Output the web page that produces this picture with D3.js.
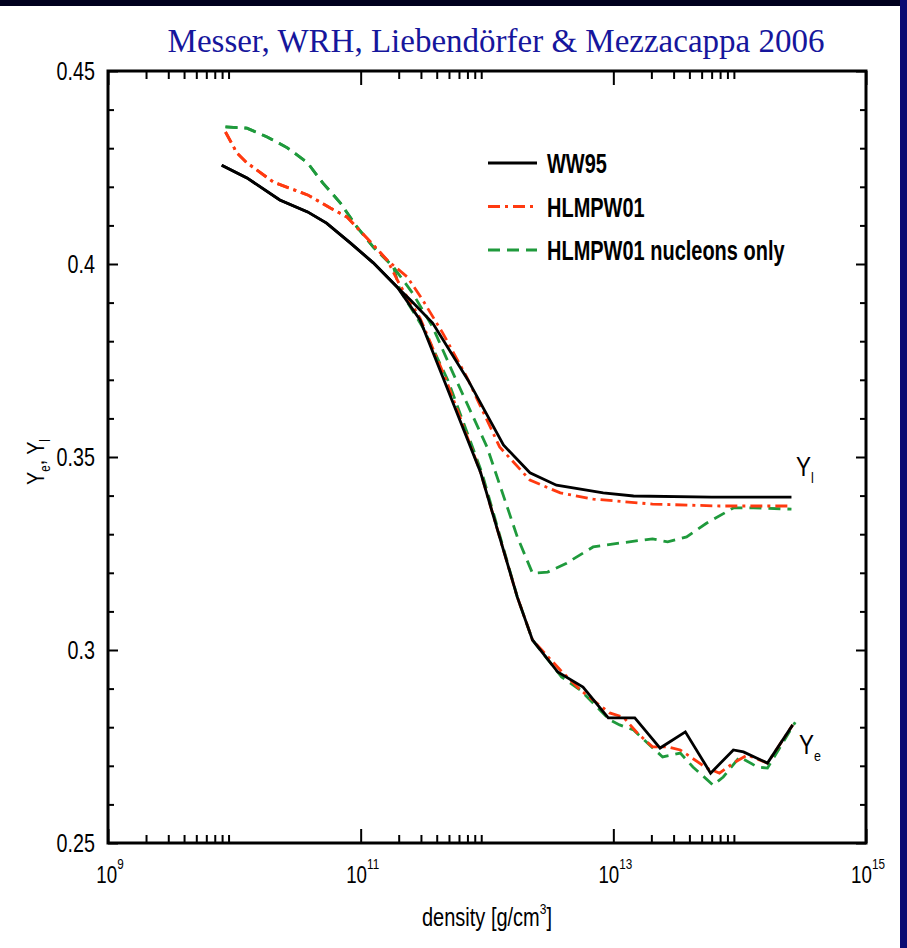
<!DOCTYPE html>
<html>
<head>
<meta charset="utf-8">
<script src="https://cdn.jsdelivr.net/npm/d3@7"></script>
<style>
  body { margin: 0; background: #fff; }
  svg { display: block; }
  .lab { font-family: "Liberation Sans", Arial, Helvetica, sans-serif; }
</style>
</head>
<body>
<svg width="907" height="948"></svg>
<script>
// series: [log10 density, Y]
const ww95Yl = [[9.90,0.4256],[10.10,0.4223],[10.36,0.4166],[10.58,0.4135],[10.73,0.4106],[10.92,0.4054],[11.10,0.4003],[11.29,0.3940],
  [11.40,0.3905],[11.57,0.3847],[11.85,0.3699],[12.13,0.3531],[12.34,0.3459],[12.55,0.3427],[12.92,0.3407],[13.16,0.3399],[13.78,0.3396],[14.41,0.3396]];
const ww95Ye = [[9.90,0.4256],[10.10,0.4223],[10.36,0.4166],[10.58,0.4135],[10.73,0.4106],[10.92,0.4054],[11.10,0.4003],[11.29,0.3940],
  [11.47,0.3855],[11.65,0.3707],[11.95,0.3459],[12.24,0.3137],[12.36,0.3026],[12.56,0.2943],[12.76,0.2904],[12.96,0.2824],[13.17,0.2824],
  [13.37,0.2746],[13.57,0.2788],[13.77,0.2681],[13.95,0.2741],[14.03,0.2736],[14.22,0.2707],[14.42,0.2806]];
const hlmpYl = [[9.93,0.4342],[10.02,0.4288],[10.10,0.4262],[10.31,0.4212],[10.58,0.4179],[10.76,0.4145],[10.89,0.4122],[11.05,0.4067],[11.21,0.4010],
  [11.37,0.3966],[11.49,0.3907],[11.65,0.3821],[11.84,0.3707],[12.10,0.3526],[12.34,0.3440],[12.58,0.3407],[12.84,0.3391],[13.31,0.3378],[13.84,0.3373],[14.41,0.3373]];
const hlmpYe = [[9.93,0.4342],[10.02,0.4288],[10.10,0.4262],[10.31,0.4212],[10.58,0.4179],[10.76,0.4145],[10.89,0.4122],[11.05,0.4067],[11.21,0.4010],
  [11.31,0.3946],[11.47,0.3860],[11.67,0.3705],[11.95,0.3459],[12.24,0.3137],[12.36,0.3026],[12.58,0.2948],[12.74,0.2896],[12.97,0.2837],[13.08,0.2826],
  [13.19,0.2785],[13.31,0.2749],[13.43,0.2749],[13.53,0.2741],[13.74,0.2694],[13.84,0.2681],[13.95,0.2707],[14.06,0.2728],[14.22,0.2707],[14.42,0.2806]];
const nucYl = [[9.93,0.4355],[10.10,0.4352],[10.26,0.4329],[10.42,0.4301],[10.58,0.4262],[10.70,0.4210],[10.84,0.4158],[10.97,0.4096],[11.10,0.4044],[11.26,0.3992],
  [11.41,0.3925],[11.57,0.3837],[11.73,0.3718],[12.00,0.3526],[12.24,0.3293],[12.36,0.3199],[12.48,0.3202],[12.63,0.3225],[12.84,0.3267],[13.05,0.3277],
  [13.31,0.3288],[13.43,0.3280],[13.58,0.3293],[13.74,0.3329],[13.95,0.3368],[14.11,0.3368],[14.41,0.3365]];
const nucYe = [[9.93,0.4355],[10.10,0.4352],[10.26,0.4329],[10.42,0.4301],[10.58,0.4262],[10.70,0.4210],[10.84,0.4158],[10.97,0.4096],[11.10,0.4044],[11.26,0.3992],
  [11.31,0.3933],[11.49,0.3837],[11.69,0.3699],[11.96,0.3459],[12.24,0.3137],[12.36,0.3026],[12.59,0.2930],[12.74,0.2896],[12.97,0.2819],[13.05,0.2806],
  [13.16,0.2793],[13.27,0.2759],[13.39,0.2723],[13.53,0.2733],[13.63,0.2697],[13.79,0.2650],[13.87,0.2671],[14.00,0.2723],[14.14,0.2697],[14.22,0.2694],[14.44,0.2813]];

const xMajor = [9, 11, 13, 15];          // exponents
const xMinorDecades = [9, 11, 13];       // minor ticks 2..9 only in these decades
const yMajor = [0.25, 0.3, 0.35, 0.4, 0.45];
const legendNames = ['WW95', 'HLMPW01', 'HLMPW01 nucleons only'];

const svg = d3.select('svg');
const margin = {top: 71, right: 41, bottom: 105, left: 108};
const width = 907, height = 948;
const innerWidth = width - margin.left - margin.right;
const innerHeight = height - margin.top - margin.bottom;

// condensed helvetica look: squeeze text horizontally
const squeeze = (sel, x, y, k) => sel.attr('transform', `translate(${x}, ${y}) scale(${k}, 1)`);

// dark slide border
svg.append('rect').attr('x', 0).attr('y', 0).attr('width', width).attr('height', 6).attr('fill', '#00001e');
svg.append('rect').attr('x', 900).attr('y', 0).attr('width', 7).attr('height', height).attr('fill', '#0b0b72');

svg.append('text')
  .attr('x', 496).attr('y', 52)
  .attr('text-anchor', 'middle')
  .style('font-family', '"Liberation Serif", "Times New Roman", serif')
  .style('font-size', '33px')
  .attr('fill', '#16169c')
  .text('Messer, WRH, Liebendörfer & Mezzacappa 2006');

const xScale = d3.scaleLog().domain([1e9, 1e15]).range([0, innerWidth]);
const yScale = d3.scaleLinear().domain([0.25, 0.45]).range([innerHeight, 0]);

const g = svg.append('g').attr('transform', `translate(${margin.left}, ${margin.top})`);

// ticks pointing inward on all four sides
const xMinor = [];
xMinorDecades.forEach(d => { for (let k = 2; k <= 9; k++) xMinor.push(k * Math.pow(10, d)); });
const yMinor = d3.range(0.26, 0.45, 0.01).filter(v => Math.abs(v * 20 - Math.round(v * 20)) > 1e-6);
const xMajorVals = xMajor.map(e => Math.pow(10, e));

const tickAxis = (axisFn, scale, vals, size, tr) => {
  const a = g.append('g').attr('transform', tr)
    .call(axisFn(scale).tickValues(vals).tickSize(-size).tickFormat(''));
  a.select('.domain').remove();
  a.selectAll('.tick text').remove();
  a.selectAll('.tick line').attr('stroke', '#000').attr('stroke-width', 2);
};
tickAxis(d3.axisBottom, xScale, xMajorVals, 14, `translate(0, ${innerHeight})`);
tickAxis(d3.axisBottom, xScale, xMinor, 8, `translate(0, ${innerHeight})`);
tickAxis(d3.axisTop, xScale, xMajorVals, 14, 'translate(0, 0)');
tickAxis(d3.axisTop, xScale, xMinor, 8, 'translate(0, 0)');
tickAxis(d3.axisLeft, yScale, yMajor, 10, 'translate(0, 0)');
tickAxis(d3.axisLeft, yScale, yMinor, 6, 'translate(0, 0)');
tickAxis(d3.axisRight, yScale, yMajor, 10, `translate(${innerWidth}, 0)`);
tickAxis(d3.axisRight, yScale, yMinor, 6, `translate(${innerWidth}, 0)`);

g.append('rect')
  .attr('width', innerWidth).attr('height', innerHeight)
  .attr('fill', 'none').attr('stroke', '#000').attr('stroke-width', 3);

// tick labels
yMajor.forEach(v => {
  g.append('text')
    .attr('class', 'lab')
    .attr('text-anchor', 'end')
    .style('font-size', '25px')
    .call(squeeze, -13, yScale(v) + 9, 0.79)
    .text(+v.toFixed(2));
});

xMajor.forEach(e => {
  g.append('text')
    .attr('class', 'lab')
    .attr('text-anchor', 'middle')
    .style('font-size', '24px')
    .call(squeeze, xScale(Math.pow(10, e)) + 2, innerHeight + 40, 0.78)
    .call(t => {
      t.append('tspan').text('10');
      t.append('tspan').attr('dy', -14).style('font-size', '15px').text(e);
    });
});

svg.append('text')
  .attr('class', 'lab')
  .attr('text-anchor', 'middle')
  .style('font-size', '25px')
  .call(squeeze, 487, 926, 0.8)
  .call(t => {
    t.append('tspan').text('density [g/cm');
    t.append('tspan').attr('dy', -12).style('font-size', '15px').text('3');
    t.append('tspan').attr('dy', 12).text(']');
  });

svg.append('text')
  .attr('class', 'lab')
  .attr('transform', 'translate(44, 462) rotate(-90) scale(0.82, 1)')
  .attr('text-anchor', 'middle')
  .style('font-size', '24px')
  .call(t => {
    t.append('tspan').text('Y');
    t.append('tspan').attr('dy', 6).style('font-size', '14px').text('e');
    t.append('tspan').attr('dy', -6).text(', Y');
    t.append('tspan').attr('dy', 6).style('font-size', '14px').text('l');
  });

// curves
const line = d3.line()
  .x(d => xScale(Math.pow(10, d[0])))
  .y(d => yScale(d[1]));

const styles = [
  {color: '#000000', dash: null},
  {color: '#ff3a10', dash: '12,5,3,5'},
  {color: '#1f9a3c', dash: '12,7'}
];
const curves = [
  {data: ww95Yl, s: 0}, {data: ww95Ye, s: 0},
  {data: hlmpYl, s: 1}, {data: hlmpYe, s: 1},
  {data: nucYl, s: 2}, {data: nucYe, s: 2}
];
// draw green first, black last
[4, 5, 2, 3, 0, 1].forEach(i => {
  const c = curves[i];
  g.append('path')
    .datum(c.data)
    .attr('d', line)
    .attr('fill', 'none')
    .attr('stroke', styles[c.s].color)
    .attr('stroke-width', 2.8)
    .attr('stroke-dasharray', styles[c.s].dash);
});

// branch labels
const branchLabel = (x, y, sub) => {
  svg.append('text')
    .attr('class', 'lab')
    .style('font-size', '27px')
    .call(squeeze, x, y, 0.83)
    .call(t => {
      t.append('tspan').text('Y');
      t.append('tspan').attr('dy', 7).style('font-size', '15px').text(sub);
    });
};
branchLabel(796, 476, 'l');
branchLabel(799, 754, 'e');

// legend
const legend = svg.append('g');
legendNames.forEach((name, i) => {
  const y = 163 + i * 43.5;
  legend.append('line')
    .attr('x1', 488).attr('x2', 537).attr('y1', y).attr('y2', y)
    .attr('stroke', styles[i].color)
    .attr('stroke-width', 3)
    .attr('stroke-dasharray', styles[i].dash);
  legend.append('text')
    .attr('class', 'lab')
    .style('font-size', '27px')
    .style('font-weight', 'bold')
    .call(squeeze, 547, y + 10, 0.74)
    .text(name);
});
</script>
</body>
</html>
